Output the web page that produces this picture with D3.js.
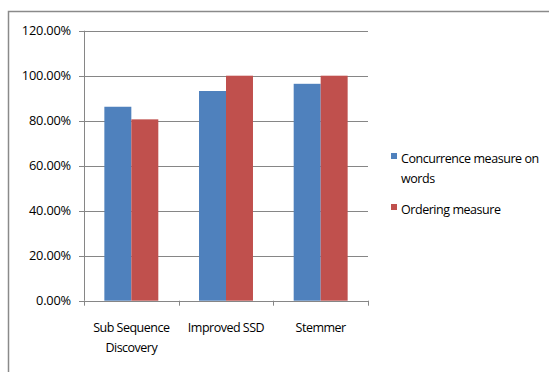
<!DOCTYPE html>
<html><head><meta charset="utf-8">
<script src="https://cdn.jsdelivr.net/npm/d3@7"></script>
<style>body{margin:0;background:#fff;} text{font-family:"Open Sans",sans-serif;fill:#000;}</style>
</head><body>
<svg id="c" width="549" height="372"></svg>
<script>
const categories = [["Sub Sequence","Discovery"],["Improved SSD"],["Stemmer"]];
const seriesNames = [["Concurrence measure on","words"],["Ordering measure"]];
const concurrence = [0.862, 0.932, 0.964];
const ordering = [0.806, 1.0, 1.0];
const yTicks = [0,0.2,0.4,0.6,0.8,1.0,1.2];
const colors = ["#4F81BD","#C0504D"];

const svg = d3.select("#c");
svg.append("path").attr("d","M8.5,372V11.5H549").attr("fill","none").attr("stroke","#8a8a8a").attr("stroke-width",1.5);

const L=84, R=368, T=30.7, B=300.7;
const x = d3.scaleBand().domain(d3.range(categories.length)).range([L,R]).paddingInner(0.43).paddingOuter(0.215);
const xs = d3.scaleBand().domain([0,1]).range([0,x.bandwidth()]);
const y = d3.scaleLinear().domain([0,1.2]).range([B,T]);

svg.append("g").selectAll("line").data(yTicks).join("line")
  .attr("x1",L-5).attr("x2",R).attr("y1",d=>Math.round(y(d))+0.5).attr("y2",d=>Math.round(y(d))+0.5)
  .attr("stroke","#868686").attr("stroke-width",1);
svg.append("line").attr("x1",L+0.5).attr("x2",L+0.5).attr("y1",T).attr("y2",B).attr("stroke","#868686");
svg.append("g").selectAll("text").data(yTicks).join("text")
  .attr("x",L-13).attr("y",d=>y(d)+4.5).attr("text-anchor","end").attr("font-size",12.8).attr("letter-spacing",-0.2)
  .text(d=>d3.format(".2%")(d));

const series=[concurrence,ordering];
series.forEach((s,si)=>{
  svg.append("g").selectAll("rect").data(s).join("rect")
    .attr("x",(d,i)=>x(i)+xs(si)).attr("width",xs.bandwidth())
    .attr("y",d=>y(d)).attr("height",d=>B-y(d)).attr("fill",colors[si]);
});
svg.append("g").selectAll("line").data(d3.range(categories.length+1)).join("line")
  .attr("x1",i=>Math.round(L+(R-L)/categories.length*i)+0.5).attr("x2",i=>Math.round(L+(R-L)/categories.length*i)+0.5)
  .attr("y1",B).attr("y2",B+5).attr("stroke","#868686");
svg.append("g").selectAll("text").data(categories).join("text")
  .attr("x",(d,i)=>x(i)+x.bandwidth()/2).attr("y",331.5).attr("text-anchor","middle").attr("font-size",12.5).attr("letter-spacing",-0.5)
  .each(function(d){d3.select(this).selectAll("tspan").data(d).join("tspan")
    .attr("x",d3.select(this).attr("x")).attr("dy",(t,j)=>j?20:0).text(t=>t);});

const leg=[153,204];
seriesNames.forEach((n,i)=>{
  svg.append("rect").attr("x",391).attr("y",leg[i]).attr("width",6).attr("height",6).attr("fill",colors[i]);
  const t=svg.append("text").attr("x",401).attr("y",leg[i]+9.5).attr("font-size",12.5).attr("letter-spacing",-0.45);
  t.selectAll("tspan").data(n).join("tspan").attr("x",401).attr("dy",(s,j)=>j?20:0).text(s=>s);
});
</script>
</body></html>
